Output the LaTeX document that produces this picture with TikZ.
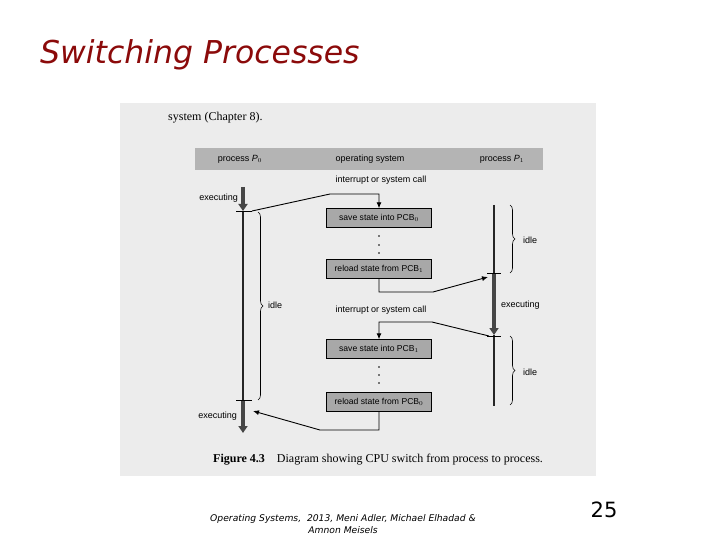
\documentclass[tikz,border=0pt]{standalone}
\usepackage{fontspec}
\setmainfont{Liberation Serif}
\newfontfamily\lab{Liberation Sans}
\newfontfamily\ttl{DejaVu Sans}
\usetikzlibrary{arrows.meta,decorations.pathreplacing}
\definecolor{titlered}{HTML}{8B0A0A}
\definecolor{figbg}{HTML}{ECECEC}
\definecolor{barbg}{HTML}{B4B4B4}
\definecolor{boxbg}{HTML}{A8A8A8}
\begin{document}
\begin{tikzpicture}[x=1pt,y=-1pt,
  lbl/.style={font=\lab\fontsize{9}{10}\selectfont,inner sep=0pt},
  osbox/.style={draw=black,fill=boxbg,minimum width=105pt,minimum height=19pt,inner sep=0pt,font=\lab\fontsize{8.6}{9}\selectfont},
  conn/.style={draw=black,line width=0.9pt,-{Latex[length=6pt,width=5pt]}},
  exec/.style={draw=gray!55!black,line width=3.5pt,-{Triangle[length=7pt,width=9pt]}},
  tl/.style={draw=black!85,line width=2pt},
  brace/.style={draw=black,line width=0.6pt,decorate,decoration={brace,amplitude=5pt}}]
\useasboundingbox (0,0) rectangle (720,540);
\fill[white] (0,0) rectangle (720,540);
\node[anchor=west,font=\ttl\itshape\fontsize{31.5}{34}\selectfont,text=titlered,inner sep=0pt] (title) at (40,55) {Switching Processes};
\fill[figbg] (120,103) rectangle (596,476);
\node[anchor=west,font=\fontsize{12}{14}\selectfont,inner sep=0pt] (intro) at (168,118) {system (Chapter 8).};
\node[fill=barbg,minimum width=348pt,minimum height=22pt,inner sep=0pt] (bar) at (369,159) {};
\node[lbl] (p0) at (240,159) {process \textit{P}$_0$};
\node[lbl] (os) at (370,159) {operating system};
\node[lbl] (p1) at (502,159) {process \textit{P}$_1$};
\node[lbl] (int1) at (381,180) {interrupt or system call};
\node[osbox] (s0) at (379,218) {save state into PCB$_0$};
\node[osbox] (r1) at (379,269) {reload state from PCB$_1$};
\node[lbl] (int2) at (381,310) {interrupt or system call};
\node[osbox] (s1) at (379,349) {save state into PCB$_1$};
\node[osbox] (r0) at (379,402) {reload state from PCB$_0$};
\foreach \y in {236,245,253,367,375,383} \fill (379,\y) circle (0.9pt);
% left timeline
\coordinate (la) at (243,187); \coordinate (lb) at (243,211);
\coordinate (lc) at (243,400); \coordinate (ld) at (243,433);
\draw[exec] (la) -- (lb);
\draw[tl] (lb) -- (lc);
\draw[exec] (lc) -- (ld);
\draw[black,line width=0.6pt] (236,211) -- (252,211) (236,400) -- (252,400);
\node[lbl,anchor=east] (ex1) at (238,198) {executing};
\node[lbl,anchor=east] (ex2) at (237,416) {executing};
\draw[brace] (258,212) -- (258,400);
\node[lbl,anchor=west] (idl) at (268,305) {idle};
% right timeline
\coordinate (ra) at (494,205); \coordinate (rb) at (494,273);
\coordinate (rc) at (494,335); \coordinate (rd) at (494,406);
\draw[tl] (ra) -- (rb);
\draw[exec] (rb) -- (rc);
\draw[tl] (rc) -- (rd);
\draw[black,line width=0.6pt] (487,273) -- (501,273) (487,336) -- (501,336);
\draw[brace] (510,205) -- (510,273);
\node[lbl,anchor=west] (idr1) at (523,240) {idle};
\node[lbl,anchor=west] (exr) at (501,305) {executing};
\draw[brace] (510,336) -- (510,405);
\node[lbl,anchor=west] (idr2) at (523,372) {idle};
% connectors
\draw[conn] (lb) ++(9,0) coordinate (lbo) -- (330,194) -- (s0.north |- 0,194) -- (s0.north);
\draw[conn] (r1.south) -- (379,292) -- (433,292) -- (488,277);
\draw[conn] (489,336) -- (432,322) -- (s1.north |- 0,322) -- (s1.north);
\draw[conn] (r0.south) -- (379,430) -- (320,430) -- (253,411);
\node[font=\fontsize{12}{14}\selectfont,inner sep=0pt,anchor=west] (cap) at (213,460) {\textbf{Figure 4.3}\quad Diagram showing CPU switch from process to process.};
\node[font=\ttl\itshape\fontsize{9.2}{12}\selectfont,align=center,inner sep=0pt] (foot) at (343,524) {Operating Systems,\ \ 2013, Meni Adler, Michael Elhadad \&\\Amnon Meisels};
\node[font=\ttl\fontsize{21}{22}\selectfont,inner sep=0pt] (num) at (604,510) {25};
\end{tikzpicture}
\end{document}
